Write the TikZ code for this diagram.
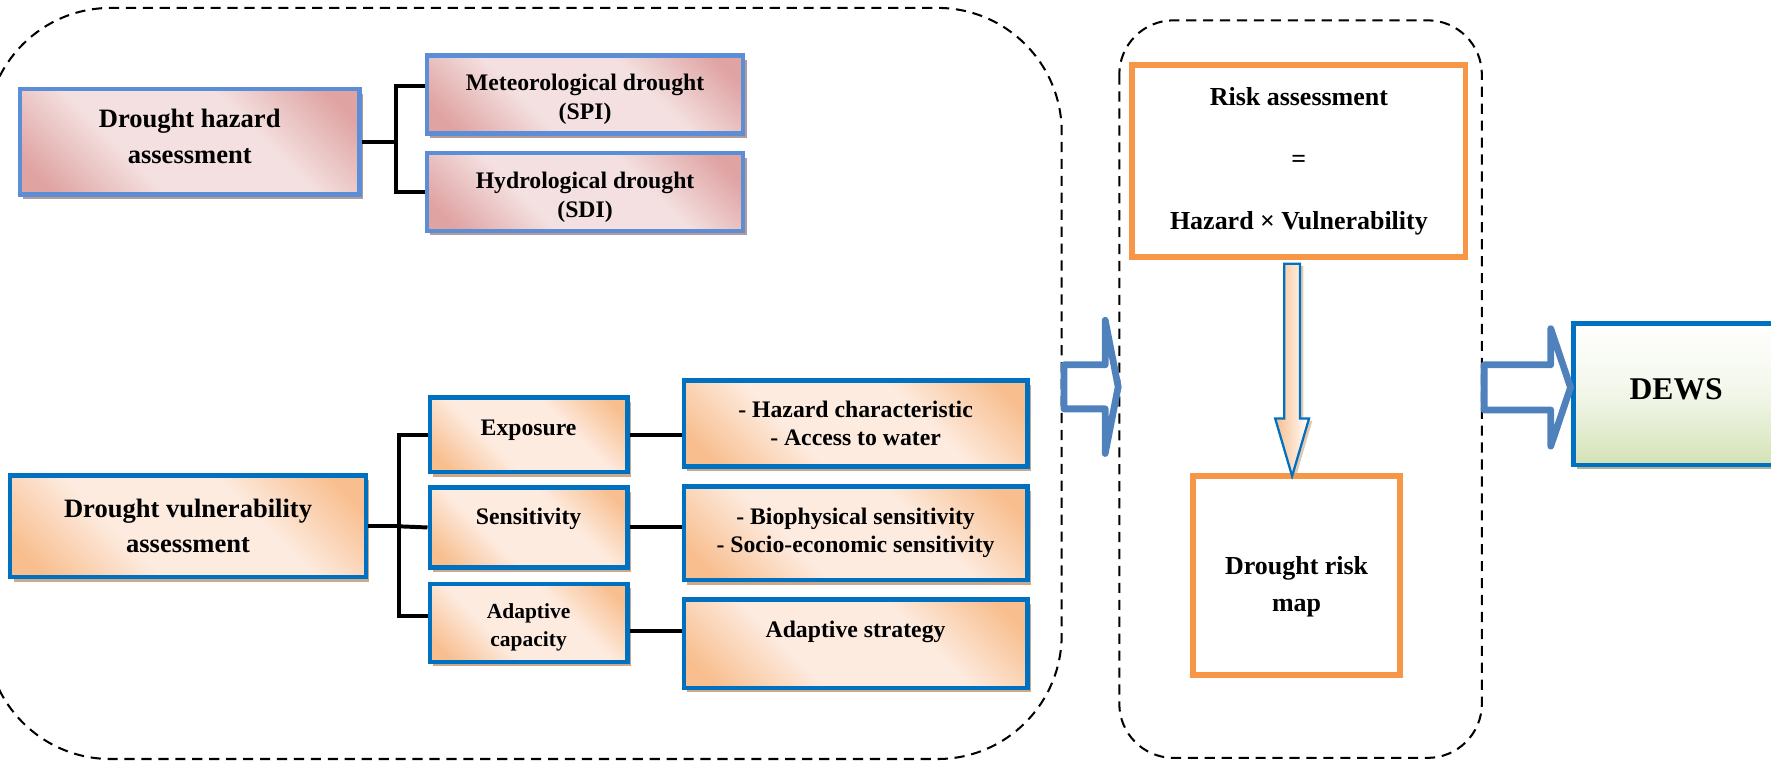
\documentclass[tikz,border=0pt]{standalone}
\usepackage{fontspec}
\setmainfont{Liberation Serif}
\usetikzlibrary{shadows}

\definecolor{hazblue}{HTML}{5B8ED6}
\definecolor{vulblue}{HTML}{0070C0}
\definecolor{pinkdark}{HTML}{DFA3A2}
\definecolor{pinklight}{HTML}{F4E0E0}
\definecolor{peachdark}{HTML}{F8BE8E}
\definecolor{peachlight}{HTML}{FDEBDF}
\definecolor{pinkshadow}{HTML}{B59A9A}
\definecolor{peachshadow}{HTML}{CCA98A}
\definecolor{greenshadow}{HTML}{A9B596}
\definecolor{riskorange}{HTML}{F79646}
\definecolor{arrowblue}{HTML}{4F81BD}
\definecolor{dewsgreen}{HTML}{D3E2B6}

\pgfdeclarehorizontalshading{pinkband}{100bp}{color(0bp)=(pinkdark); color(20bp)=(pinkdark); color(38bp)=(pinklight); color(62bp)=(pinklight); color(80bp)=(pinkdark); color(100bp)=(pinkdark)}
\pgfdeclarehorizontalshading{peachband}{100bp}{color(0bp)=(peachdark); color(20bp)=(peachdark); color(38bp)=(peachlight); color(62bp)=(peachlight); color(80bp)=(peachdark); color(100bp)=(peachdark)}

\begin{document}
\begin{tikzpicture}[x=1pt,y=-1pt,
  hazbox/.style={draw=hazblue, line width=4pt, inner sep=0pt, align=center,
    shading=pinkband, shading angle=45,
    drop shadow={shadow xshift=3pt, shadow yshift=-4pt, fill=pinkshadow, opacity=1}},
  vulbox/.style={draw=vulblue, line width=4pt, inner sep=0pt, align=center,
    shading=peachband, shading angle=45,
    drop shadow={shadow xshift=3pt, shadow yshift=-4pt, fill=peachshadow, opacity=1}},
  riskbox/.style={draw=riskorange, line width=5pt, fill=white, inner sep=0pt, align=center},
  link/.style={line width=3.5pt},
  frame/.style={dash pattern=on 9pt off 6pt, line width=1.8pt},
  hollow/.style={draw=arrowblue, fill=white, line width=6pt, line join=round},
  downarrow/.style={draw=vulblue, line width=2pt, left color=peachdark, right color=white,
    drop shadow={shadow xshift=3pt, shadow yshift=-2pt, fill=brown!70, opacity=.6}},
]
\useasboundingbox (0,0) rectangle (1568,675);
\clip (0,0) rectangle (1568,675);

% frames
\draw[frame, rounded corners=110pt] (-12,7) rectangle (940,672);
\draw[frame, rounded corners=48pt] (991,18) rectangle (1312,671);

% hazard
\node[hazbox, minimum width=301pt, minimum height=93pt, text depth=10pt, font=\bfseries\fontsize{23.5}{31.5}\selectfont] (haz) at (168,125.5) {Drought hazard\\assessment};
\node[hazbox, minimum width=280pt, minimum height=69pt, text height=48.8pt, font=\bfseries\fontsize{21}{25.5}\selectfont] (met) at (518,83.5) {Meteorological drought\\(SPI)};
\node[hazbox, minimum width=280pt, minimum height=69pt, text height=48.8pt, font=\bfseries\fontsize{21}{25.5}\selectfont] (hyd) at (518,170) {Hydrological drought\\(SDI)};

\draw[link] (haz.east) -- ++(30,0) coordinate (hk);
\draw[link] ([yshift=7.5pt]met.west) -| (hk) |- (hyd.west);

% vulnerability
\node[vulbox, minimum width=315pt, minimum height=90pt, font=\bfseries\fontsize{23.5}{31}\selectfont] (vul) at (166.5,466) {Drought vulnerability\\assessment};
\node[vulbox, minimum width=175pt, minimum height=66pt, text depth=12.6pt, font=\bfseries\fontsize{21}{25}\selectfont] (exp) at (468,385) {Exposure};
\node[vulbox, minimum width=175pt, minimum height=71pt, text depth=20.6pt, font=\bfseries\fontsize{21}{25}\selectfont] (sen) at (468,467) {Sensitivity};
\node[vulbox, minimum width=175pt, minimum height=69pt, text height=45.3pt, font=\bfseries\fontsize{19}{24.3}\selectfont] (ada) at (468,551.5) {Adaptive\\capacity};
\node[vulbox, minimum width=304pt, minimum height=76pt, font=\bfseries\fontsize{21}{24.5}\selectfont] (hzc) at (757.5,375) {- Hazard characteristic\\- Access to water};
\node[vulbox, minimum width=304pt, minimum height=83pt, font=\bfseries\fontsize{21}{24.5}\selectfont] (bio) at (757.5,472) {- Biophysical sensitivity\\- Socio-economic sensitivity};
\node[vulbox, minimum width=304pt, minimum height=78pt, text depth=26.6pt, font=\bfseries\fontsize{21}{25}\selectfont] (ast) at (757.5,570) {Adaptive strategy};

\draw[link] (vul.east) -- ++(27.5,0) coordinate (vk);
\draw[link] (exp.west) -| (vk) |- ([yshift=6.5pt]ada.west);
\draw[link] (vk) -- (sen.west);
\draw[link] (exp.east) -- (exp.east -| hzc.west);
\draw[link] (sen.east) -- (sen.east -| bio.west);
\draw[link] ([yshift=-7.5pt]ada.east) -- ([yshift=-7.5pt]ada.east -| ast.west);

% risk
\node[riskbox, minimum width=295pt, minimum height=170pt, font=\bfseries\fontsize{23}{55}\selectfont] (risk) at (1150,142.5) {Risk assessment\\=\\Hazard × Vulnerability};
\node[riskbox, minimum width=183pt, minimum height=176pt, text height=68.7pt, font=\bfseries\fontsize{23}{33}\selectfont] (map) at (1148,509.5) {Drought risk\\map};
\draw[downarrow] ([xshift=-13pt,yshift=-3.5pt]risk.south) -- ++(0,137) -- ++(-8,0) -- ++(15,51) -- ++(15,-51) -- ++(-8,0) -- ++(0,-137) -- cycle;

% dews
\node[draw=vulblue, line width=4pt, inner sep=0pt, minimum width=182pt, minimum height=125pt, text depth=10pt,
  top color=white, bottom color=dewsgreen, middle color=white!70!dewsgreen,
  drop shadow={shadow xshift=3pt, shadow yshift=-4pt, fill=greenshadow, opacity=1},
  font=\bfseries\fontsize{28}{34}\selectfont] (dews) at (1484,349) {DEWS};

% arrows
\draw[hollow] (942,323) -- (978.5,323) -- (978.5,283.5) -- (990,342.5) -- (978.5,401.5) -- (978.5,362) -- (942,362) -- cycle;
\draw[hollow] (1314,323) -- (1373,323) -- (1373,291) -- (1390.5,343) -- (1373,395) -- (1373,363) -- (1314,363) -- cycle;

\end{tikzpicture}
\end{document}
